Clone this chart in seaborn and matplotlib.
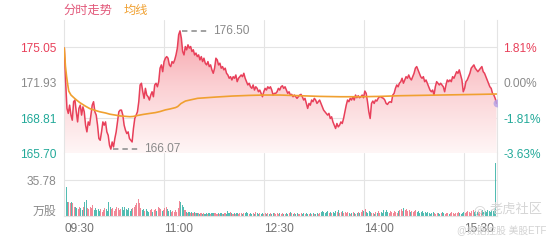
import numpy as np
import pandas as pd
import matplotlib
matplotlib.use("Agg")
import matplotlib.pyplot as plt
import seaborn as sns
from matplotlib.colors import LinearSegmentedColormap
from matplotlib.patches import PathPatch

sns.set_theme(style="white")
plt.rcParams["font.family"] = ["Liberation Sans", "Noto Sans CJK SC", "DejaVu Sans"]

# ---------------- data ----------------
prev_close = 171.93
price_ticks = [165.70, 168.81, 171.93, 175.05]
pct_labels = ["-3.63%", "-1.81%", "0.00%", "1.81%"]
time_ticks = [0, 90, 180, 270, 360]
time_labels = ["09:30", "11:00", "12:30", "14:00", "15:30"]
session_minutes = 389
vol_max = 35.78

price_morning = [
    174.98, 172.02, 169.66, 169.22, 169.95, 169.07, 168.62, 170.25, 170.40, 169.36,
    168.47, 169.66, 169.95, 169.07, 169.80, 169.36, 168.18, 167.59, 168.47, 168.18,
    169.07, 169.95, 170.25, 169.36, 169.07, 168.18, 167.00, 166.85, 167.59, 168.47,
    168.18, 168.47, 167.59, 167.29, 166.41, 166.07, 166.70, 166.26, 167.00, 167.59,
    168.47, 169.36, 169.51, 169.51, 169.07, 168.18, 167.74, 167.44, 167.59, 167.00,
    166.85, 166.70, 167.89, 168.77, 169.07, 169.36, 170.25, 171.73, 171.88, 171.13,
    170.55, 171.43, 170.84, 170.69, 170.40, 170.84, 171.13, 170.69, 171.73, 171.88,
    171.57, 172.02, 173.21, 173.50, 172.90, 173.79, 174.09,
]
price_late_morning = [
    174.23, 174.09, 173.50, 173.35, 173.79, 173.65, 173.94, 174.38, 174.98, 176.16,
    176.50, 175.87, 174.68, 174.38, 175.12, 174.83, 175.27, 174.98, 175.12, 174.68,
    174.83, 174.38, 174.54, 174.23, 174.38, 173.94, 174.23, 173.79, 174.09, 173.65,
    173.50, 173.79, 173.35, 173.50, 173.06, 172.76, 173.21, 174.09, 173.94, 173.50,
    173.65, 173.21, 173.35, 173.06, 173.21, 172.76, 172.61, 172.32, 172.46, 172.17,
    172.46, 172.32, 172.61, 172.02, 172.32, 172.46, 172.61, 172.46, 172.76, 172.32,
    172.02, 171.73, 171.88, 171.57, 171.43, 171.73, 171.28, 171.57, 171.43, 171.13,
    171.28, 170.99, 170.69, 171.13, 171.43, 171.28, 171.57, 171.43, 171.57, 171.28,
    170.84, 170.99,
]
price_midday = [
    170.99, 171.13, 171.43, 171.28, 171.57, 171.66, 171.43, 171.57, 171.28, 170.99,
    171.13, 170.84, 170.90, 170.69, 170.84, 170.69, 170.55, 170.69, 170.84, 170.90,
    170.69, 170.40, 170.55, 170.10, 169.66, 170.10, 169.95, 170.40, 170.25, 170.55,
    170.40, 170.10, 170.25, 170.40, 170.10, 169.80, 169.51, 169.36, 169.22, 169.07,
    169.22, 168.77, 168.92, 168.47, 168.18, 167.89, 168.33, 168.03, 168.18, 168.47,
    168.33, 168.77, 169.36, 169.95, 170.40, 170.25, 170.55, 170.40, 170.69, 170.40,
    170.84, 170.60, 170.78, 170.60, 170.69, 170.84, 170.60, 171.19, 170.99, 170.25,
    169.36, 168.77, 170.10, 170.31, 170.10, 170.40, 170.31, 170.55, 170.69,
]
price_afternoon = [
    170.69, 170.60, 170.55, 170.40, 170.10, 170.01, 170.19, 170.25, 170.19, 170.84,
    170.99, 171.43, 171.73, 171.57, 171.88, 172.02, 172.32, 171.88, 172.17, 172.46,
    172.32, 172.61, 172.32, 172.17, 172.46, 172.76, 173.21, 173.35, 173.06, 172.76,
    172.46, 172.32, 172.46, 172.02, 172.17, 171.88, 171.57, 171.28, 171.13, 171.28,
    170.84, 171.57, 172.02, 171.88, 171.73, 171.88, 171.73, 171.57, 171.13, 171.73,
    172.17, 172.02, 172.17, 172.02, 172.46, 172.32, 172.61, 172.90, 172.76, 173.06,
    172.61, 172.17, 171.13, 171.43, 172.02, 172.17, 172.46, 172.76, 173.21, 173.35,
    173.50, 173.21, 173.06, 172.90, 173.06, 173.21, 173.35, 172.90, 172.76, 172.46,
    172.17, 171.88, 171.57, 171.43, 170.99, 170.84, 170.55, 170.10,
]

avg_minute = [0, 1, 2, 3, 4, 6, 9, 11, 14, 19, 23, 28, 32, 37, 41, 46, 50, 55, 59, 62,
              65, 71, 77, 82, 86, 91, 95, 100, 102, 105, 109, 113, 120, 136, 151, 167,
              180, 194, 212, 230, 248, 266, 284, 302, 320, 338, 356, 374, 389]
avg_price = [174.98, 173.41, 172.52, 171.81, 171.19, 170.84, 170.57, 170.40, 170.17,
             169.86, 169.64, 169.48, 169.36, 169.26, 169.15, 169.07, 169.00, 168.96,
             168.93, 168.95, 169.02, 169.13, 169.22, 169.29, 169.38, 169.53, 169.61,
             169.73, 169.82, 170.09, 170.31, 170.40, 170.55, 170.66, 170.75, 170.81,
             170.84, 170.84, 170.78, 170.72, 170.69, 170.69, 170.72, 170.78, 170.81,
             170.84, 170.87, 170.90, 170.93]

volume_am = [
    36, 29, 14, 14, 13, 14, 13, 9, 9, 8, 7, 9, 8, 6, 9, 14, 16, 8, 7, 9,
    8, 11, 6, 8, 6, 7, 5, 7, 4, 6, 8, 7, 5, 14, 9, 7, 8, 5, 7, 9,
    8, 6, 7, 9, 6, 9, 7, 6, 8, 5, 7, 8, 9, 11, 13, 17, 13, 8, 6, 7,
    5, 7, 5, 4, 6, 7, 4, 6, 7, 5, 9, 8, 7, 5, 6, 8, 9, 7, 5, 6,
    4, 5, 4, 6, 4, 8, 15, 14, 11, 9, 6, 4, 3, 4, 3, 4, 3, 4, 3, 3,
    3, 2, 3, 2, 3, 2, 3, 2, 3, 2, 3, 3, 3, 3, 2, 3, 2, 3, 2, 2,
    3, 2, 5, 3, 4, 3, 2, 3, 2, 3, 2, 3, 3, 2, 3, 3, 4, 3, 2, 3,
    2, 3, 2, 4, 3, 2, 3, 2, 3, 2, 3, 2, 3, 2, 3, 2, 3, 3, 2, 3,
    2,
]
volume_pm = [
    3, 2, 3, 2, 2, 3, 2, 3, 4, 3, 2, 3, 2, 3, 2, 2, 3, 2, 3, 2,
    3, 2, 2, 3, 2, 3, 2, 2, 3, 2, 3, 4, 5, 4, 3, 4, 5, 3, 4, 3,
    4, 3, 5, 4, 6, 3, 4, 5, 3, 4, 3, 4, 3, 2, 3, 4, 3, 2, 3, 4,
    3, 4, 6, 5, 7, 4, 3, 5, 4, 3, 3, 2, 4, 3, 5, 3, 4, 3, 6, 4,
    6, 4, 3, 5, 4, 3, 5, 4, 3, 5, 6, 7, 5, 8, 6, 7, 5, 6, 4, 5,
    4, 5, 6, 4, 5, 3, 4, 5, 3, 4, 3, 4, 3, 2, 3, 4, 3, 2, 3, 3,
    2, 3, 4, 3, 2, 3, 3, 2, 3, 4, 3, 2, 3, 3, 4, 3, 2, 3, 4, 3,
    4, 5, 4, 3, 5, 6, 4, 5, 4, 5, 4, 5, 6, 4, 5, 4, 6, 5, 4, 6,
    5, 6, 53,
]

# ---------------- colours ----------------
RED = "#e8405a"
ORANGE = "#f0a030"
TEAL = "#22a999"
GRAY_TXT = "#8a8a8a"
GRID = "#e4e4e4"

price = np.array(price_morning + price_late_morning + price_midday + price_afternoon)
t = np.linspace(0, session_minutes, len(price))
volume = np.array(volume_am + volume_pm, dtype=float)
vt = np.linspace(0.5, session_minutes - 0.5, len(volume))

df = pd.DataFrame({"minute": t, "price": price})
df_avg = pd.DataFrame({"minute": avg_minute, "avg": avg_price})

W, H = 560, 240
fig = plt.figure(figsize=(W / 100, H / 100), dpi=100)


def rect(x0, y0, x1, y1):
    return [x0 / W, 1 - y1 / H, (x1 - x0) / W, (y1 - y0) / H]


ax = fig.add_axes(rect(64.3, 20, 496.5, 153.3))
axv = fig.add_axes(rect(64.3, 153.3, 496.5, 216))

ylo, yhi = 165.70, 177.46
ax.set_xlim(0, session_minutes)
ax.set_ylim(ylo, yhi)

# gradient fill under the price line
cmap = LinearSegmentedColormap.from_list("g", ["#fff6f6", "#fbd0d3", "#f69aa3"])
grad = np.linspace(0, 1, 256).reshape(-1, 1)
im = ax.imshow(grad, extent=[0, session_minutes, ylo, yhi], origin="lower",
               aspect="auto", cmap=cmap, zorder=1)
poly = ax.fill_between(t, price, ylo, color="none", lw=0)
patch = PathPatch(poly.get_paths()[0], transform=ax.transData,
                  facecolor="none", edgecolor="none")
ax.add_patch(patch)
im.set_clip_path(patch)

sns.lineplot(data=df, x="minute", y="price", ax=ax, color=RED, lw=1.1, zorder=4)
sns.lineplot(data=df_avg, x="minute", y="avg", ax=ax, color=ORANGE, lw=1.2, zorder=5)
ax.scatter([t[-1]], [price[-1]], s=32, color="#b7a3e6", alpha=0.85, zorder=6, lw=0)

# max / min markers
imax, imin = int(np.argmax(price)), int(np.argmin(price))
for idx in (imax, imin):
    x0, y0 = t[idx], price[idx]
    ax.plot([x0 + 1.5, x0 + 26], [y0, y0], ls=(0, (3, 2.2)), color="#9a9a9a", lw=1.3, zorder=6)
    ax.text(x0 + 30, y0, f"{y0:.2f}", color=GRAY_TXT, fontsize=8.6, va="center", ha="left", zorder=6)

# grid & axes styling (price)
ax.set_xticks(time_ticks[1:])
ax.set_yticks(price_ticks)
ax.set_yticklabels([f"{v:.2f}" for v in price_ticks])
ax.grid(True, color=GRID, lw=0.8)
ax.set_axisbelow(True)
ax.tick_params(axis="x", labelbottom=False, length=0)
ax.tick_params(axis="y", length=0, pad=6, labelsize=8.6)
ax.set_xlabel("")
ax.set_ylabel("")
for s in ("top", "bottom"):
    ax.spines[s].set_visible(False)
for s in ("left", "right"):
    ax.spines[s].set_color(GRID)
    ax.spines[s].set_linewidth(0.8)

lbl_colors = [TEAL, TEAL, GRAY_TXT, RED]
for lab, c in zip(ax.get_yticklabels(), lbl_colors):
    lab.set_color(c)

ax2 = ax.twinx()
ax2.set_ylim(ylo, yhi)
ax2.set_yticks(price_ticks)
ax2.set_yticklabels(pct_labels)
ax2.tick_params(axis="y", length=0, pad=5, labelsize=8.6)
for lab, c in zip(ax2.get_yticklabels(), lbl_colors):
    lab.set_color(c)
for s in ax2.spines.values():
    s.set_visible(False)

# ---------------- volume ----------------
interp_prev = np.interp(np.maximum(vt - 1.2, 0), t, price)
interp_now = np.interp(vt, t, price)
bar_cols = ["#f07b8c" if n >= p else "#3fb5aa" for n, p in zip(interp_now, interp_prev)]
axv.bar(vt, volume, width=0.95, color=bar_cols, alpha=0.9, lw=0)
axv.set_xlim(0, session_minutes)
axv.set_ylim(0, vol_max * 62.7 / 36)
axv.set_yticks([vol_max, vol_max * 6 / 36])
axv.set_yticklabels([f"{vol_max:.2f}", "万股"])
axv.tick_params(axis="y", length=0, pad=6, labelsize=8.6, labelcolor=GRAY_TXT)
axv.set_xticks(time_ticks)
axv.set_xticklabels(time_labels)
for lab in axv.get_xticklabels():
    lab.set_horizontalalignment("left")
axv.tick_params(axis="x", length=0, pad=5, labelsize=8.6, labelcolor="#707070")
axv.grid(True, color=GRID, lw=0.8)
axv.set_axisbelow(True)
axv.spines["top"].set_visible(False)
for s in ("left", "right", "bottom"):
    axv.spines[s].set_color(GRID)
    axv.spines[s].set_linewidth(0.8)
ygl = axv.get_ygridlines()
ygl[1].set_visible(False)
xgl = axv.get_xgridlines()
xgl[0].set_visible(False)

# ---------------- header & watermark ----------------
fig.text(63 / W, 1 - 11 / H, "分时走势", color="#e2587a", fontsize=8.8, va="center", ha="left")
fig.text(124 / W, 1 - 11 / H, "均线", color=ORANGE, fontsize=8.8, va="center", ha="left")
fig.text(490 / W, 1 - 210 / H, "老虎社区", color="#d6d6d6", fontsize=9.5, va="center", ha="left", zorder=10)
fig.text(473 / W, 1 - 210 / H, "◎", color="#d6d6d6", fontsize=10, va="center", ha="left",
         family=["DejaVu Sans"], zorder=10)
fig.text(457 / W, 1 - 231 / H, "@数据控股 美股ETF", color="#d2d2d2", fontsize=7, va="center",
         ha="left", zorder=10)

fig.savefig("out.png", dpi=100)
